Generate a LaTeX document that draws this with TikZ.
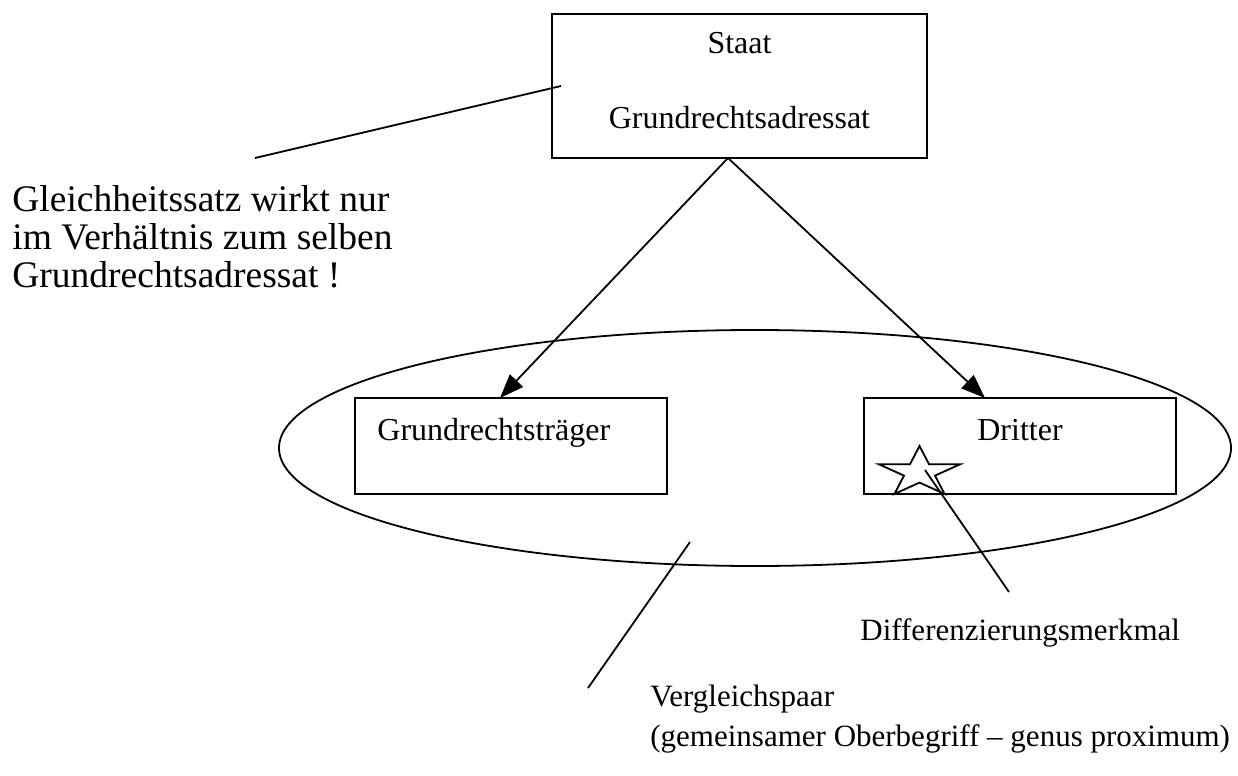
\documentclass[tikz,border=0pt]{standalone}
\usepackage{fontspec}
\setmainfont{Liberation Serif}
\usetikzlibrary{arrows.meta,shapes.geometric}
\begin{document}
\begin{tikzpicture}[x=0.5pt,y=-0.5pt,
  boxline/.style={draw, line width=1pt, inner sep=0pt},
  conn/.style={line width=0.9pt},
  arr/.style={conn, -{Triangle[length=12pt,width=9pt]}},
  boxtext/.style={font=\fontsize{16}{19}\selectfont, inner sep=0pt},
  bigtext/.style={font=\fontsize{18.75}{22}\selectfont, inner sep=0pt},
  sidetext/.style={font=\fontsize{15.5}{19}\selectfont, inner sep=0pt},
]
\useasboundingbox (0,0) rectangle (1238,776);

% boxes
\node[boxline, minimum width=187.5pt, minimum height=72pt] (staat) at (739.5,86) {};
\node[boxtext, anchor=base] (staatlbl) at (739.5,54) {Staat};
\node[boxtext, anchor=base] (adrlbl) at (739.5,128) {Grundrechtsadressat};

\node[ellipse, draw, line width=0.9pt, minimum width=476pt, minimum height=118pt, inner sep=0pt] (paar) at (755,448) {};

\node[boxline, minimum width=156pt, minimum height=48pt] (traeger) at (511,446) {};
\node[boxtext, anchor=base west] (traegerlbl) at (377,440) {Grundrechtsträger};

\node[boxline, minimum width=156pt, minimum height=48pt] (dritter) at (1020,446) {};
\node[boxtext, anchor=base] (dritterlbl) at (1020,440) {Dritter};

% arrows from the state to both parties
\coordinate (apex) at (728,158);
\coordinate (ttip) at (500,398);
\coordinate (dtip) at (985,398);
\draw[arr] (apex) -- (ttip);
\draw[arr] (apex) -- (dtip);

% star marking the distinguishing feature
\coordinate (sc) at (919.5,472.5);
\begin{scope}[shift={(sc)}]
\draw[conn] (-90:42.6 and 26.5) -- (-54:16.3 and 10.1) -- (-18:42.6 and 26.5)
  -- (18:16.3 and 10.1) -- (54:42.6 and 26.5) -- (90:16.3 and 10.1)
  -- (126:42.6 and 26.5) -- (162:16.3 and 10.1) -- (198:42.6 and 26.5)
  -- (234:16.3 and 10.1) -- cycle;
\end{scope}

% annotation lines
\coordinate (g1) at (255,158);
\coordinate (g2) at (561,86);
\draw[conn] (g1) -- (g2);

\coordinate (s1) at (925,470);
\coordinate (s2) at (1009,592);
\draw[conn] (s1) -- (s2);

\coordinate (v1) at (690,542);
\coordinate (v2) at (588,688);
\draw[conn] (v1) -- (v2);

% annotation texts
\node[bigtext, anchor=base west] (gl1) at (12,211) {Gleichheitssatz wirkt nur};
\node[bigtext, anchor=base west] (gl2) at (12,249) {im Verhältnis zum selben};
\node[bigtext, anchor=base west] (gl3) at (12,287) {Grundrechtsadressat !};

\node[sidetext, anchor=base west] (diff) at (860,640) {Differenzierungsmerkmal};

\node[sidetext, anchor=base west] (vp1) at (650,706) {Vergleichspaar};
\node[sidetext, anchor=base west] (vp2) at (650,746) {(gemeinsamer Oberbegriff – genus proximum)};
\end{tikzpicture}
\end{document}
